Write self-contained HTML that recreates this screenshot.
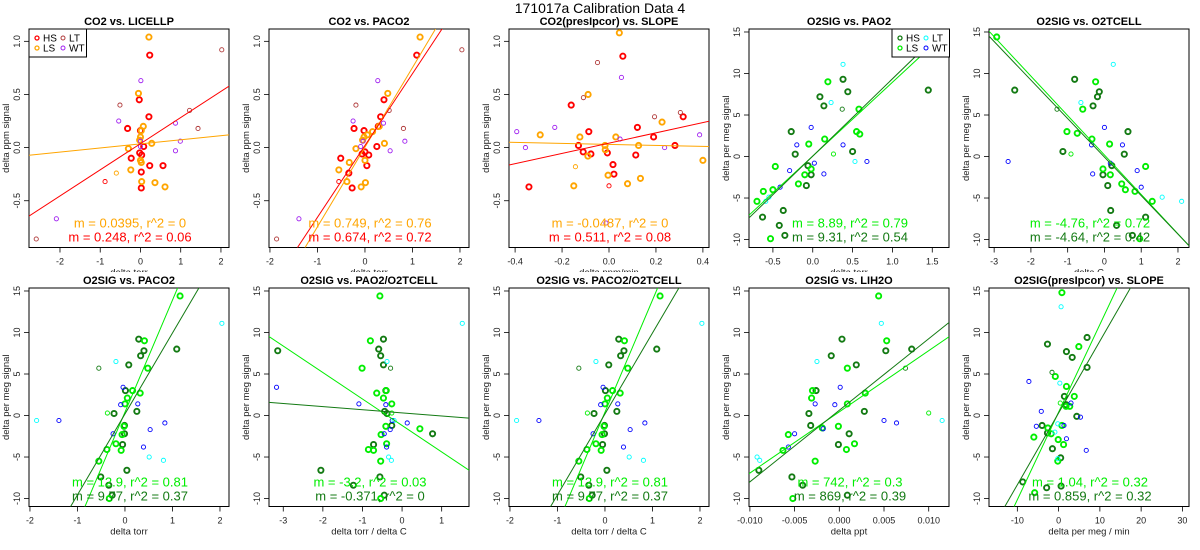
<!DOCTYPE html>
<html><head><meta charset="utf-8"><style>
html,body{margin:0;padding:0;background:#fff;overflow:hidden;width:1200px;height:550px;}
svg{display:block;font-family:"Liberation Sans",Arial,sans-serif;}
</style></head><body>
<svg id="chart" width="1200" height="550" viewBox="0 0 1200 550">
<text x="600" y="13" text-anchor="middle" font-size="14">171017a   Calibration Data 4</text>
</svg>
<script>
// ---- data ----
const p1Points=[[0.23,0.87,'HS'],[-0.03,0.45,'HS'],[0.21,0.29,'HS'],[-0.32,0.18,'HS'],[0,0.16,'HS'],[0.08,0.01,'HS'],[-0.02,-0.05,'HS'],[0.03,-0.07,'HS'],[-0.23,-0.10,'HS'],[0.23,-0.17,'HS'],[0.56,-0.17,'HS'],[0.02,-0.23,'HS'],[0.02,-0.38,'HS'],
[0.21,1.04,'LS'],[-0.05,0.51,'LS'],[0.07,0.20,'LS'],[0.02,0.16,'LS'],[0,0.10,'LS'],[-0.02,0.07,'LS'],[0.28,0.04,'LS'],[-0.30,-0.01,'LS'],[0,-0.12,'LS'],[0.02,-0.14,'LS'],[-0.24,-0.21,'LS'],[0.03,-0.32,'LS'],[0.36,-0.33,'LS'],[0.61,-0.37,'LS'],
[2.02,0.92,'LT'],[-0.51,0.40,'LT'],[1.22,0.35,'LT'],[1.43,0.18,'LT'],[-0.88,-0.32,'hs'],[-2.59,-0.86,'LT'],
[0.01,0.63,'WT'],[-0.54,0.25,'WT'],[0.87,0.23,'WT'],[0.99,0.06,'WT'],[0.87,-0.03,'WT'],[0,0.06,'WT'],[0,0.01,'WT'],[-0.60,-0.24,'ls'],[-2.09,-0.67,'WT']];
const p2Points=[[1.09,0.87,'HS'],[0.40,0.45,'HS'],[0.33,0.29,'HS'],[0.28,0.20,'HS'],[-0.23,0.18,'HS'],[-0.02,0.16,'HS'],[0.25,0.01,'HS'],[0,-0.04,'HS'],[-0.06,-0.06,'HS'],[0.08,-0.07,'HS'],[-0.51,-0.10,'HS'],[0.04,-0.17,'HS'],[-0.34,-0.24,'HS'],[-0.27,-0.38,'HS'],
[1.16,1.04,'LS'],[0.48,0.51,'LS'],[0.30,0.20,'LS'],[0.16,0.15,'LS'],[0.05,0.12,'LS'],[-0.02,0.10,'LS'],[-0.05,0.07,'LS'],[0.41,0.04,'LS'],[-0.19,-0.01,'LS'],[0,-0.12,'LS'],[-0.33,-0.14,'LS'],[-0.55,-0.21,'LS'],[-0.38,-0.32,'LS'],[0.01,-0.33,'LS'],[-0.08,-0.37,'LS'],
[2.04,0.92,'LT'],[-0.19,0.40,'LT'],[0.51,0.35,'LT'],[0.81,0.18,'LT'],[-1.86,-0.86,'LT'],[-0.55,-0.32,'hs'],
[0.27,0.63,'WT'],[-0.25,0.25,'WT'],[0.39,0.23,'WT'],[-0.04,0.06,'WT'],[-0.09,0.01,'WT'],[0.84,0.06,'WT'],[0.53,-0.03,'WT'],[-1.39,-0.67,'WT']];
const p3Points=[[0.059,0.86,'HS'],[-0.161,0.40,'HS'],[-0.086,0.15,'HS'],[0.121,0.19,'HS'],[0.316,0.29,'HS'],[0.19,0.10,'HS'],[0.281,0.02,'HS'],[-0.13,0.02,'HS'],[-0.11,-0.04,'HS'],[-0.077,-0.06,'HS'],[-0.007,-0.05,'HS'],[0.114,-0.07,'HS'],[0.017,-0.16,'HS'],[0.021,-0.25,'HS'],[-0.341,-0.37,'HS'],
[0.044,1.08,'LS'],[-0.089,0.50,'LS'],[0.226,0.24,'LS'],[-0.293,0.12,'LS'],[-0.124,0.10,'LS'],[0.029,0.10,'LS'],[-0.017,0.02,'LS'],[0.126,0.02,'LS'],[-0.016,-0.02,'LS'],[-0.09,-0.08,'LS'],[0.40,-0.12,'LS'],[-0.004,-0.26,'LS'],[0.079,-0.34,'LS'],[0.134,-0.29,'LS'],[-0.15,-0.36,'LS'],
[-0.143,-0.18,'ls'],[0,-0.36,'hs'],
[-0.049,0.80,'LT'],[-0.109,0.47,'LT'],[0.194,0.29,'LT'],[0.304,0.33,'LT'],
[0.053,0.66,'WT'],[-0.393,0.15,'WT'],[-0.231,0.19,'WT'],[-0.356,0,'WT'],[0.047,0.08,'WT'],[0.237,0,'WT'],[0.386,0.12,'WT'],[-0.013,-0.71,'WT']];
const p4Points=[[0.38,9.3,'HS'],[0.44,7.8,'HS'],[0.09,7.2,'HS'],[0.14,6.1,'HS'],[-0.27,3.0,'HS'],[-0.22,0.28,'HS'],[0.50,0.6,'HS'],[-0.06,-1.1,'HS'],[-0.02,-2.2,'HS'],[-0.08,-3.5,'HS'],[-0.37,-6.5,'HS'],[-0.63,-7.3,'HS'],[-0.42,-8.3,'HS'],[-0.35,-9.5,'HS'],[1.45,8.0,'HS'],
[0.19,9.0,'LS'],[0.58,5.7,'LS'],[0.15,2.1,'LS'],[0.55,3.0,'LS'],[0.59,2.7,'LS'],[-0.05,1.5,'LS'],[-0.47,-1.2,'LS'],[-0.02,-1.5,'LS'],[-0.1,-2.2,'LS'],[-0.18,-3.3,'LS'],[-0.5,-4.0,'LS'],[-0.62,-4.2,'LS'],[-0.7,-5.4,'LS'],[-0.53,-9.9,'LS'],
[0.26,0.3,'ls'],[0.37,5.7,'hs'],
[0.38,11.1,'LT'],[0.23,6.5,'LT'],[0.53,-0.6,'LT'],[-0.55,-4.9,'LT'],[-0.59,-5.4,'LT'],
[-0.02,3.5,'WT'],[-0.2,1.4,'WT'],[0.38,1.4,'WT'],[0.02,-0.8,'WT'],[0.68,-0.6,'WT'],[-0.29,-1.7,'WT'],[0.14,-2.1,'WT'],[-0.41,-3.7,'WT']];
const p5Points=[[-0.81,9.3,'HS'],[-0.14,7.8,'HS'],[-0.19,7.2,'HS'],[-0.31,6.1,'HS'],[-2.44,8.0,'HS'],[0.64,3.0,'HS'],[-1.13,0.6,'HS'],[0.54,0.28,'HS'],[0.2,-1.1,'HS'],[-0.04,-2.2,'HS'],[0.09,-3.5,'HS'],[0.17,-6.5,'HS'],[1.12,-7.3,'HS'],[0.33,-8.3,'HS'],[0.76,-9.5,'HS'],
[-2.93,14.4,'LS'],[-0.24,9.0,'LS'],[-0.59,5.7,'LS'],[-0.34,2.1,'LS'],[-1.02,3.0,'LS'],[-0.74,2.8,'LS'],[0.14,1.5,'LS'],[1.12,-1.2,'LS'],[-0.04,-1.5,'LS'],[0.16,-2.2,'LS'],[0.47,-3.3,'LS'],[0.57,-4.0,'LS'],[0.83,-4.2,'LS'],[1.3,-5.4,'LS'],[0.96,-9.9,'LS'],
[-0.91,0.3,'ls'],[-1.29,5.7,'hs'],
[0.24,11.1,'LT'],[-0.64,6.5,'LT'],[1.57,-4.9,'LT'],[2.1,-5.4,'LT'],
[0,3.5,'WT'],[-0.35,1.4,'WT'],[0.49,1.4,'WT'],[0.16,-0.8,'WT'],[-2.62,-0.6,'WT'],[0.89,-1.7,'WT'],[-0.32,-2.1,'WT'],[1.0,-3.7,'WT']];
const p6Points=[[0.29,9.2,'HS'],[0.40,7.8,'HS'],[0.33,7.2,'HS'],[0.08,6.1,'HS'],[1.09,8.0,'HS'],[0.01,3.0,'HS'],[0.25,0.5,'HS'],[-0.23,0.24,'HS'],[-0.01,-1.2,'HS'],[-0.01,-2.2,'HS'],[-0.05,-3.5,'HS'],[0.04,-6.6,'HS'],[-0.51,-7.4,'HS'],[-0.34,-8.4,'HS'],[-0.27,-9.6,'HS'],
[1.16,14.4,'LS'],[0.41,9.0,'LS'],[0.48,5.7,'LS'],[0.16,3.0,'LS'],[0.32,2.7,'LS'],[0.05,2.1,'LS'],[0,1.4,'LS'],[-0.02,-1.3,'LS'],[-0.06,-2.3,'LS'],[-0.19,-3.4,'LS'],[-0.38,-4.1,'LS'],[-0.08,-4.2,'LS'],[-0.55,-5.5,'LS'],[-0.33,-10.0,'LS'],
[-0.37,0.3,'ls'],[-0.55,5.7,'hs'],
[2.04,11.1,'LT'],[-0.19,6.5,'LT'],[-1.86,-0.6,'LT'],[0.51,-5.0,'LT'],[0.81,-5.4,'LT'],
[-0.04,3.4,'WT'],[-0.09,1.3,'WT'],[0.27,1.4,'WT'],[-1.39,-0.6,'WT'],[0.84,-0.9,'WT'],[0.53,-1.7,'WT'],[-0.25,-2.2,'WT'],[0.39,-3.8,'WT']];
const p7Points=[[-3.14,7.8,'HS'],[-0.47,9.2,'HS'],[-0.59,8.0,'HS'],[-0.54,7.2,'HS'],[-0.47,6.1,'HS'],[-0.41,3.0,'HS'],[-0.44,0.5,'HS'],[-0.26,-1.2,'HS'],[0.77,-2.2,'HS'],[-0.72,-3.5,'HS'],[-2.05,-6.6,'HS'],[-0.56,-7.4,'HS'],[-1.23,-8.4,'HS'],[-0.45,-9.6,'HS'],[-0.38,0.24,'HS'],
[-0.56,14.4,'LS'],[-0.8,9.0,'LS'],[-1.01,5.7,'LS'],[-0.4,3.0,'LS'],[-0.64,2.7,'LS'],[-0.47,2.1,'LS'],[-0.26,1.4,'LS'],[-0.41,-1.3,'LS'],[-0.53,-2.3,'LS'],[-0.39,-3.4,'LS'],[-0.72,-4.2,'LS'],[-0.85,-4.1,'LS'],[-0.54,-5.5,'LS'],[-0.54,-10.0,'LS'],[0.45,-1.6,'LS'],
[-0.26,0.3,'ls'],[-0.29,5.7,'hs'],
[1.52,11.1,'LT'],[-0.38,6.5,'LT'],[-0.2,-0.6,'LT'],[-0.34,-5.0,'LT'],[-0.27,-5.4,'LT'],
[-3.17,3.4,'WT'],[-1.09,1.4,'WT'],[-0.41,1.3,'WT'],[-0.25,-0.6,'WT'],[0.13,-0.9,'WT'],[-0.3,-1.7,'WT'],[-0.45,-2.2,'WT'],[-0.39,-3.8,'WT']];
const p9Points=[[0.0003,9.2,'HS'],[0.0052,7.8,'HS'],[0.0081,8.0,'HS'],[-0.0009,7.2,'HS'],[0.0019,6.1,'HS'],[-0.0026,3.0,'HS'],[0.0028,0.5,'HS'],[-0.0034,0.24,'HS'],[-0.0032,-1.2,'HS'],[0.0011,-2.2,'HS'],[-0.0001,-3.5,'HS'],[-0.009,-6.6,'HS'],[-0.0053,-7.4,'HS'],[-0.0041,-8.4,'HS'],[0.0009,-9.6,'HS'],
[0.0044,14.4,'LS'],[0.0053,9.0,'LS'],[0.0009,5.7,'LS'],[-0.003,3.0,'LS'],[0.0029,2.7,'LS'],[-0.0031,2.1,'LS'],[0.0009,1.4,'LS'],[-0.0001,-1.3,'LS'],[-0.0019,-1.5,'LS'],[-0.0057,-2.3,'LS'],[0.0017,-3.4,'LS'],[0.0008,-4.1,'LS'],[-0.0063,-4.2,'LS'],[-0.0027,-5.5,'LS'],[-0.0052,-10.0,'LS'],
[0.01,0.3,'ls'],[0.0074,5.7,'hs'],
[0.0047,11.1,'LT'],[-0.0025,6.5,'LT'],[0.0115,-0.6,'LT'],[-0.0092,-5.0,'LT'],[-0.0089,-5.4,'LT'],
[0.0001,3.4,'WT'],[-0.0005,1.3,'WT'],[-0.0027,1.4,'WT'],[-0.0018,-1.6,'WT'],[0.005,-0.6,'WT'],[0.0064,-0.9,'WT'],[-0.005,-2.2,'WT'],[-0.0057,-3.8,'WT']];
const p10Points=[[6.9,9.4,'HS'],[-2.7,8.6,'HS'],[1.9,7.7,'HS'],[3.3,7.0,'HS'],[6.9,5.8,'HS'],[1.4,2.3,'HS'],[1.8,1.3,'HS'],[4.4,-0.1,'HS'],[-4.0,-1.2,'HS'],[-2.7,-2.1,'HS'],[-1.5,-4.0,'HS'],[0.5,-5.1,'HS'],[-8.7,-8.0,'HS'],[-2.9,-8.7,'HS'],[0.6,-8.5,'HS'],
[0.8,14.8,'LS'],[4.9,8.3,'LS'],[-0.8,4.7,'LS'],[1.9,3.5,'LS'],[3.8,2.3,'LS'],[1.8,1.1,'LS'],[2.7,1.1,'LS'],[0.8,-1.2,'LS'],[-2.6,-1.5,'LS'],[-1.8,-2.2,'LS'],[-6.0,-2.6,'LS'],[-0.1,-2.9,'LS'],[1.2,-3.5,'LS'],[-0.2,-5.5,'LS'],[-5.8,-9.3,'LS'],
[0.4,1.5,'ls'],[-1.6,5.2,'hs'],
[0.6,13.1,'LT'],[0.3,3.9,'LT'],[-0.2,-1.0,'LT'],[-0.9,-2.0,'LT'],[-0.2,-5.2,'LT'],
[-7.2,4.1,'WT'],[-4.2,0.5,'WT'],[-5.4,-1.3,'WT'],[5.3,-0.2,'WT'],[1.3,-1.2,'WT'],[1.9,-2.8,'WT'],[6.7,-4.2,'WT'],[3.0,1.5,'WT']];
// fit lines: [slope, intercept] (LS fit first, HS fit second)
const p1Fits=[[0.0386,0.035],[0.246,0.037]];
const p2Fits=[[0.749,0.004],[0.676,0.02]];
const p3Fits=[[-0.047,0.03],[0.484,0.042]];
const p4Fits=[[8.89,0.05],[9.31,0.05]];
const p5Fits=[[-4.75,0.18],[-4.64,-0.07]];
const p6Fits=[[13.5,0.4],[9.75,0.19]];
const p7Fits=[[-3.19,-1.2],[-0.374,0.32]];
const p9Fits=[[737,0.44],[862,0.63]];
const p10Fits=[[1.055,0.41],[0.865,0.31]];
const p1Labels=["m = 0.0395, r^2 = 0","m = 0.248, r^2 = 0.06"];
const p2Labels=["m = 0.749, r^2 = 0.76","m = 0.674, r^2 = 0.72"];
const p3Labels=["m = -0.0487, r^2 = 0","m = 0.511, r^2 = 0.08"];
const p4Labels=["m = 8.89, r^2 = 0.79","m = 9.31, r^2 = 0.54"];
const p5Labels=["m = -4.76, r^2 = 0.72","m = -4.64, r^2 = 0.42"];
const p6Labels=["m = 12.9, r^2 = 0.81","m = 9.77, r^2 = 0.37"];
const p7Labels=["m = -3.2, r^2 = 0.03","m = -0.371, r^2 = 0"];
const p9Labels=["m = 742, r^2 = 0.3","m = 869, r^2 = 0.39"];
const p10Labels=["m = 1.04, r^2 = 0.32","m = 0.859, r^2 = 0.32"];
const co2YTicks=[-0.5,0.0,0.5,1.0];
const o2YTicks=[-10,-5,0,5,10,15];
const torrTicks=[-2,-1,0,1,2];
const slopeTicks=[-0.4,-0.2,0.0,0.2,0.4];
const pao2Ticks=[-0.5,0.0,0.5,1.0,1.5];
const tcellTicks=[-3,-2,-1,0,1,2];
const ratioTicks=[-3,-2,-1,0,1];
const ppTicks=[-0.010,-0.005,0.000,0.005,0.010];
const megTicks=[-10,0,10,20,30];

const co2Col={HS:'#ff0000',LS:'#ffa500',LT:'#b03a3a',WT:'#a020f0',hs:'#ff0000',ls:'#ffa500'};
const o2Col={HS:'#137a13',LS:'#00ee00',LT:'#00ffff',WT:'#0000ff',hs:'#137a13',ls:'#00ee00'};
const panels=[
 {id:'co2-licellp',title:'CO2 vs. LICELLP',ox:0,oy:0,xl:[-2.77,2.2],yl:[-0.94,1.116],xt:torrTicks,yt:co2YTicks,yd:1,xd:0,pts:p1Points,fits:p1Fits,lab:p1Labels,col:co2Col,xlab:'delta torr',ylab:'delta ppm signal',leg:'left'},
 {id:'co2-paco2',title:'CO2 vs. PACO2',ox:240,oy:0,xl:[-2.02,2.19],yl:[-0.94,1.116],xt:torrTicks,yt:co2YTicks,yd:1,xd:0,pts:p2Points,fits:p2Fits,lab:p2Labels,col:co2Col,xlab:'delta torr',ylab:'delta ppm signal'},
 {id:'co2-slope',title:'CO2(presIpcor) vs. SLOPE',ox:480,oy:0,xl:[-0.426,0.426],yl:[-0.94,1.116],xt:slopeTicks,yt:co2YTicks,yd:1,xd:1,pts:p3Points,fits:p3Fits,lab:p3Labels,col:co2Col,xlab:'delta ppm/min',ylab:'delta ppm signal'},
 {id:'o2-pao2',title:'O2SIG vs. PAO2',ox:720,oy:0,xl:[-0.80,1.71],yl:[-10.96,15.36],xt:pao2Ticks,yt:o2YTicks,yd:0,xd:1,pts:p4Points,fits:p4Fits,lab:p4Labels,col:o2Col,xlab:'delta torr',ylab:'delta per meg signal',leg:'right'},
 {id:'o2-o2tcell',title:'O2SIG vs. O2TCELL',ox:960,oy:0,xl:[-3.14,2.3],yl:[-10.96,15.36],xt:tcellTicks,yt:o2YTicks,yd:0,xd:0,pts:p5Points,fits:p5Fits,lab:p5Labels,col:o2Col,xlab:'delta C',ylab:'delta per meg signal'},
 {id:'o2-paco2',title:'O2SIG vs. PACO2',ox:0,oy:259,xl:[-2.02,2.19],yl:[-10.96,15.36],xt:torrTicks,yt:o2YTicks,yd:0,xd:0,pts:p6Points,fits:p6Fits,lab:p6Labels,col:o2Col,xlab:'delta torr',ylab:'delta per meg signal'},
 {id:'o2-pao2-o2tcell',title:'O2SIG vs. PAO2/O2TCELL',ox:240,oy:259,xl:[-3.36,1.69],yl:[-10.96,15.36],xt:ratioTicks,yt:o2YTicks,yd:0,xd:0,pts:p7Points,fits:p7Fits,lab:p7Labels,col:o2Col,xlab:'delta torr / delta C',ylab:'delta per meg signal'},
 {id:'o2-paco2-o2tcell',title:'O2SIG vs. PACO2/O2TCELL',ox:480,oy:259,xl:[-2.02,2.19],yl:[-10.96,15.36],xt:torrTicks,yt:o2YTicks,yd:0,xd:0,pts:p6Points,fits:p6Fits,lab:p6Labels,col:o2Col,xlab:'delta torr / delta C',ylab:'delta per meg signal'},
 {id:'o2-lih2o',title:'O2SIG vs. LIH2O',ox:720,oy:259,xl:[-0.0101,0.01227],yl:[-10.96,15.36],xt:ppTicks,yt:o2YTicks,yd:0,xd:3,pts:p9Points,fits:p9Fits,lab:p9Labels,col:o2Col,xlab:'delta ppt',ylab:'delta per meg signal'},
 {id:'o2-slope',title:'O2SIG(presIpcor) vs. SLOPE',ox:960,oy:259,xl:[-16.87,31.6],yl:[-10.96,15.36],xt:megTicks,yt:o2YTicks,yd:0,xd:0,pts:p10Points,fits:p10Fits,lab:p10Labels,col:o2Col,xlab:'delta per meg / min',ylab:'delta per meg signal'}
];
const NS='http://www.w3.org/2000/svg';
const svg=document.getElementById('chart');
function mk(tag,attrs,parent){const e=document.createElementNS(NS,tag);for(const k in attrs)e.setAttribute(k,attrs[k]);parent.appendChild(e);return e;}
const L=29,R=229,T=29,B=247.5;
panels.forEach((p,pi)=>{
  const cp=mk('clipPath',{id:'pc'+pi},svg);
  if(p.oy===0) mk('rect',{x:0,y:0,width:240,height:272},cp);
  else mk('rect',{x:0,y:16,width:240,height:270},cp);
  const g=mk('g',{transform:`translate(${p.ox},${p.oy})`},svg);
  
  
  const gc=mk('g',{'clip-path':'url(#pc'+pi+')'},g);
  const sx=v=>L+(v-p.xl[0])/(p.xl[1]-p.xl[0])*(R-L);
  const sy=v=>B-(v-p.yl[0])/(p.yl[1]-p.yl[0])*(B-T);
  const ti=mk('text',{x:129,y:T-4,'text-anchor':'middle','font-size':11,'font-weight':'bold'},gc);ti.textContent=p.title;
  
  
  const xa=mk('g',{},gc);
  
  
  const xs=p.xt.filter(v=>v>=p.xl[0]&&v<=p.xl[1]);
  mk('line',{x1:sx(xs[0]),x2:sx(xs[xs.length-1]),y1:B,y2:B,stroke:'#000','stroke-width':0.8},xa);
  xs.forEach(v=>{mk('line',{x1:sx(v),x2:sx(v),y1:B,y2:B+5,stroke:'#000','stroke-width':0.8},xa);
    const t=mk('text',{x:sx(v),y:B+17,'text-anchor':'middle','font-size':9,fill:'#222'},xa);t.textContent=v.toFixed(p.xd);
    
    });
  const xlb=mk('text',{x:129,y:B+28,'text-anchor':'middle','font-size':9.5,fill:'#222'},gc);xlb.textContent=p.xlab;
  
  
  const ya=mk('g',{},gc);
  
  
  const ys=p.yt.filter(v=>v>=p.yl[0]&&v<=p.yl[1]);
  mk('line',{x1:L,x2:L,y1:sy(ys[0]),y2:sy(ys[ys.length-1]),stroke:'#000','stroke-width':0.8},ya);
  ys.forEach(v=>{mk('line',{x1:L-5,x2:L,y1:sy(v),y2:sy(v),stroke:'#000','stroke-width':0.8},ya);
    const t=mk('text',{x:0,y:0,'text-anchor':'middle','font-size':9,fill:'#222',transform:`translate(${L-9},${sy(v)}) rotate(-90)`},ya);t.textContent=v.toFixed(p.yd);
    
    });
  const ylb=mk('text',{x:0,y:0,'text-anchor':'middle','font-size':9.5,fill:'#222',transform:`translate(9,${(T+B)/2}) rotate(-90)`},gc);ylb.textContent=p.ylab;
  
  
  const box=mk('rect',{x:L,y:T,width:R-L,height:B-T,fill:'none',stroke:'#000','stroke-width':1},g);
  
  
  const cl=mk('clipPath',{id:'pl'+pi},svg);mk('rect',{x:L,y:T,width:R-L,height:B-T},cl);
  const pg=mk('g',{},g);
  
  
  p.pts.forEach(d=>{const thick=(d[2]==='HS'||d[2]==='LS');
    const c=mk('circle',{cx:sx(d[0]),cy:sy(d[1]),r:thick?2.6:2.1,fill:'none',stroke:p.col[d[2]],'stroke-width':thick?1.9:0.9},pg);
    
    });
  const lg=mk('g',{'clip-path':'url(#pl'+pi+')'},g);
  p.fits.forEach((f,i)=>{const x0=p.xl[0],x1=p.xl[1];
    const ln=mk('line',{x1:sx(x0),y1:sy(f[0]*x0+f[1]),x2:sx(x1),y2:sy(f[0]*x1+f[1]),stroke:i===0?p.col.LS:p.col.HS,'stroke-width':1},lg);
    
    });
  p.lab.forEach((s,i)=>{const t=mk('text',{x:130,y:B-20+i*14,'text-anchor':'middle','font-size':13,fill:i===0?p.col.LS:p.col.HS},g);t.textContent=s;
    
    });
  if(p.leg){const lx=p.leg==='left'?L:172;
    const lgd=mk('g',{},g);
    
    
    mk('rect',{x:lx,y:T,width:57.5,height:28,fill:'#fff',stroke:'#000','stroke-width':1},lgd);
    [['HS',0,0],['LS',0,1],['LT',1,0],['WT',1,1]].forEach(e=>{const cx=lx+8+e[1]*26,cy=T+9+e[2]*10;
      const thick=e[0]==='HS'||e[0]==='LS';
      mk('circle',{cx:cx,cy:cy,r:2,fill:'none',stroke:p.col[e[0]],'stroke-width':thick?1.3:1},lgd);
      const t=mk('text',{x:cx+6,y:cy+3.5,'font-size':10},lgd);t.textContent=e[0];
      
      });}
});
</script>
</body></html>
